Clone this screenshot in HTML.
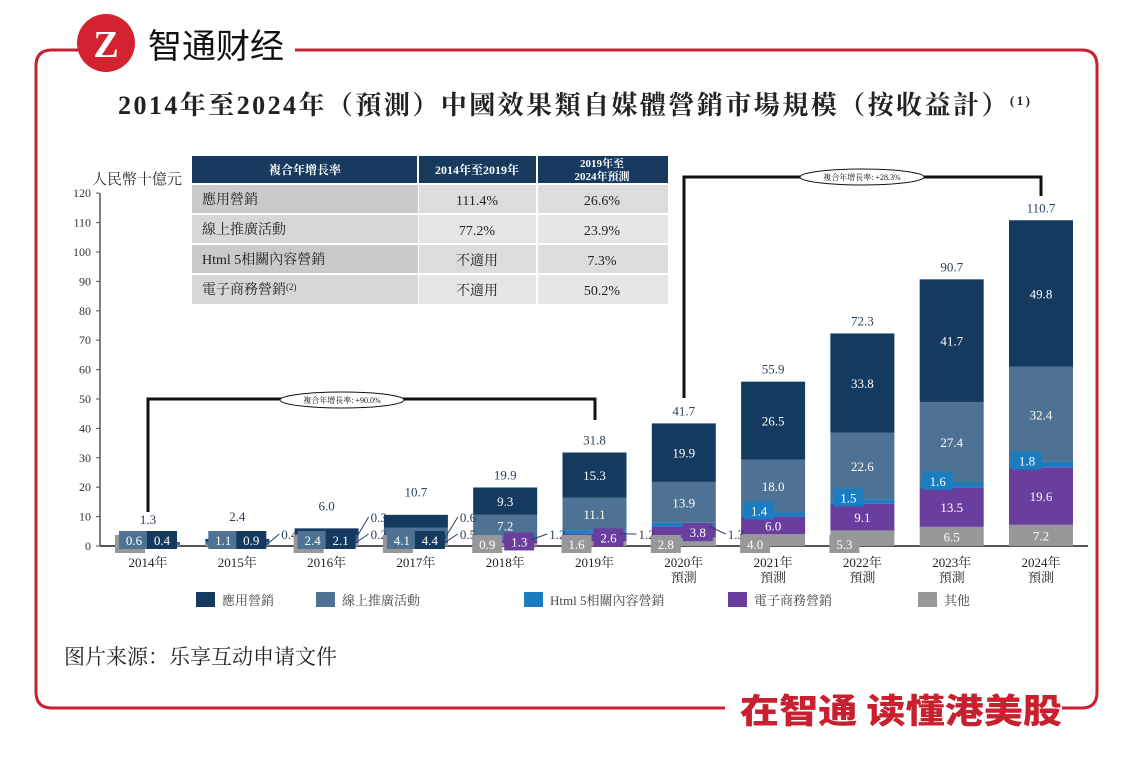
<!DOCTYPE html>
<html><head><meta charset="utf-8">
<style>
body{margin:0;background:#fff;width:1131px;height:760px;overflow:hidden;font-family:"Liberation Serif","Noto Serif CJK SC",serif;}
svg{display:block}
</style></head>
<body>
<svg id="chart" width="1131" height="760" viewBox="0 0 1131 760" xmlns="http://www.w3.org/2000/svg">
  <path d="M80 50 H52 Q36 50 36 66 V692 Q36 708 52 708 H725" fill="none" stroke="#c8202e" stroke-width="3"/>
  <path d="M295 50 H1082 Q1097 50 1097 66 V692 Q1097 708 1082 708 H1062" fill="none" stroke="#c8202e" stroke-width="3"/>
  <g>
    <circle cx="106" cy="43" r="29" fill="#d42330"/>
    <text x="106" y="57" text-anchor="middle" font-family="Liberation Serif" font-weight="bold" font-size="38" fill="#fff">Z</text>
    <text x="148" y="58" font-family="'Noto Sans CJK SC',sans-serif" font-size="34" fill="#111">智通财经</text>
  </g>
  <text x="740" y="723" textLength="322" lengthAdjust="spacingAndGlyphs" font-family="'Noto Sans CJK SC',sans-serif" font-weight="900" font-size="34" fill="#c8202e">在智通 读懂港美股</text>
  <text x="118" y="114" textLength="912" lengthAdjust="spacing" font-weight="bold" font-size="26" fill="#222">2014年至2024年（預測）中國效果類自媒體營銷市場規模（按收益計）<tspan font-size="13" dy="-9">(1)</tspan></text>
  <text x="92" y="184" font-size="15" fill="#333">人民幣十億元</text>
  <text x="64" y="664" font-size="21" fill="#222">图片来源：乐享互动申请文件</text>

  <g font-size="14">
    <rect x="192" y="156" width="476" height="27" fill="#173a5e"/>
    <text x="305" y="174" text-anchor="middle" fill="#fff" font-weight="bold" font-size="12">複合年增長率</text>
    <text x="477" y="174" text-anchor="middle" fill="#fff" font-weight="bold" font-size="12">2014年至2019年</text>
    <text x="602" y="167" text-anchor="middle" fill="#fff" font-weight="bold" font-size="11">2019年至</text>
    <text x="602" y="180" text-anchor="middle" fill="#fff" font-weight="bold" font-size="11">2024年預測</text>
    <line x1="418" y1="156" x2="418" y2="304" stroke="#fff" stroke-width="2"/>
    <line x1="537" y1="156" x2="537" y2="304" stroke="#fff" stroke-width="2"/>
    <rect x="192" y="185" width="226" height="28" fill="#c9cacc"/><rect x="419" y="185" width="117" height="28" fill="#dcdcde"/><rect x="538" y="185" width="130" height="28" fill="#dcdcde"/>
    <rect x="192" y="215" width="226" height="28" fill="#d6d7d9"/><rect x="419" y="215" width="117" height="28" fill="#e6e6e8"/><rect x="538" y="215" width="130" height="28" fill="#e6e6e8"/>
    <rect x="192" y="245" width="226" height="28" fill="#c9cacc"/><rect x="419" y="245" width="117" height="28" fill="#dcdcde"/><rect x="538" y="245" width="130" height="28" fill="#dcdcde"/>
    <rect x="192" y="275" width="226" height="29" fill="#d6d7d9"/><rect x="419" y="275" width="117" height="29" fill="#e6e6e8"/><rect x="538" y="275" width="130" height="29" fill="#e6e6e8"/>
    <text x="202" y="204" fill="#222">應用營銷</text><text x="477" y="205" text-anchor="middle" fill="#222">111.4%</text><text x="602" y="205" text-anchor="middle" fill="#222">26.6%</text>
    <text x="202" y="234" fill="#222">線上推廣活動</text><text x="477" y="235" text-anchor="middle" fill="#222">77.2%</text><text x="602" y="235" text-anchor="middle" fill="#222">23.9%</text>
    <text x="202" y="264" fill="#222">Html 5相關內容營銷</text><text x="477" y="265" text-anchor="middle" fill="#222">不適用</text><text x="602" y="265" text-anchor="middle" fill="#222">7.3%</text>
    <text x="202" y="294" fill="#222">電子商務營銷<tspan font-size="9" dy="-4">(2)</tspan></text><text x="477" y="295" text-anchor="middle" fill="#222">不適用</text><text x="602" y="295" text-anchor="middle" fill="#222">50.2%</text>
  </g>

  <g>
    <path d="M148 512 V399 H595 V420" fill="none" stroke="#111" stroke-width="3"/>
    <ellipse cx="342" cy="400" rx="62" ry="8" fill="#fff" stroke="#111"/>
    <text x="342" y="403" text-anchor="middle" font-size="8" fill="#111">複合年增長率: +90.0%</text>
  </g>
  <g>
    <path d="M684 398 V177 H1041 V196" fill="none" stroke="#111" stroke-width="3"/>
    <ellipse cx="862" cy="177" rx="62" ry="8" fill="#fff" stroke="#111"/>
    <text x="862" y="180" text-anchor="middle" font-size="8" fill="#111">複合年增長率: +28.3%</text>
  </g>

  <g id="axes"></g>
  <g id="bars"></g>
  <g id="labels"></g>
  <g id="legend"></g>
</svg>
<script>
const categories = ["2014年","2015年","2016年","2017年","2018年","2019年","2020年","2021年","2022年","2023年","2024年"];
const forecast = [false,false,false,false,false,false,true,true,true,true,true];
const otherVals = [0.3,0.4,1.0,1.0,0.9,1.6,2.8,4.0,5.3,6.5,7.2];
const ecomVals  = [0,0,0.2,0.5,1.3,2.6,3.8,6.0,9.1,13.5,19.6];
const html5Vals = [0,0,0.3,0.6,1.2,1.2,1.3,1.4,1.5,1.6,1.8];
const onlineVals = [0.6,1.1,2.4,4.1,7.2,11.1,13.9,18.0,22.6,27.4,32.4];
const appVals   = [0.4,0.9,2.1,4.4,9.3,15.3,19.9,26.5,33.8,41.7,49.8];
const totals    = [1.3,2.4,6.0,10.7,19.9,31.8,41.7,55.9,72.3,90.7,110.7];
const yTicks = [0,10,20,30,40,50,60,70,80,90,100,110,120];
const seriesNames = ["應用營銷","線上推廣活動","Html 5相關內容營銷","電子商務營銷","其他"];

const NS="http://www.w3.org/2000/svg";
const y0=546, pxPer=2.94, x0=148, step=89.3, bw=64;
const yS=v=>y0-v*pxPer;
const xS=i=>x0+i*step;
function mk(tag,attrs,parent,txt){const e=document.createElementNS(NS,tag);for(const k in attrs)e.setAttribute(k,attrs[k]);if(txt!==undefined)e.textContent=txt;parent.appendChild(e);return e;}

const axes=document.getElementById('axes');
mk('line',{x1:100,y1:yS(0),x2:1088,y2:yS(0),stroke:'#555','stroke-width':2},axes);
mk('line',{x1:100,y1:yS(0),x2:100,y2:yS(120),stroke:'#555','stroke-width':1.5},axes);
yTicks.forEach(t=>{
  mk('line',{x1:96,y1:yS(t),x2:100,y2:yS(t),stroke:'#555'},axes);
  const tx=mk('text',{x:91,y:yS(t)+4,'text-anchor':'end','font-size':12,fill:'#333'},axes,String(t));
  
  
});

const bars=document.getElementById('bars');
const labels=document.getElementById('labels');
const series=[
 {vals:otherVals,color:'#97989a',name:'other',off:-18,k:0},
 {vals:ecomVals,color:'#6a3e9e',name:'ecommerce',off:14,k:1},
 {vals:html5Vals,color:'#1a7dc2',name:'html5',off:-14,k:2},
 {vals:onlineVals,color:'#4d7293',name:'online-promo',off:-14,k:3},
 {vals:appVals,color:'#143a5f',name:'app-marketing',off:14,k:4}
];
function label(x,y,v,color,box,anchor){
  if(box) mk('rect',{x:x-15,y:y-9,width:30,height:18,fill:color},labels);
  const t=mk('text',{x:x,y:y+5,'text-anchor':anchor||'middle','font-size':13,fill:box?'#fff':'#2a3f57'},labels,v.toFixed(1));
  
  
}
categories.forEach((c,i)=>{
  let acc=0;
  let outN=0;
  series.forEach(s=>{
    const v=s.vals[i];
    if(v<=0)return;
    const top=yS(acc+v), h=v*pxPer;
    const r=mk('rect',{x:xS(i)-bw/2,y:top,width:bw,height:h,fill:s.color},bars);
    
    
    const cy=top+h/2;
    if(h>=16){
      const t=mk('text',{x:xS(i),y:cy+5,'text-anchor':'middle','font-size':13,fill:'#fff'},labels,v.toFixed(1));
      
      
    } else if(s.k===0 && i!==1){
      label(xS(i)-18,y0-2,v,s.color,true);
    } else if(s.k===3||s.k===4){
      label(xS(i)+s.off,y0-6,v,s.color,true);
    } else if(s.k===1 && i>=4){
      label(xS(i)+14,cy,v,s.color,true);
    } else if(s.k===2 && i>=7){
      label(xS(i)-14,cy-4,v,s.color,true);
    } else {
      const ox=xS(i)+bw/2+12, oy=y0-12-outN*17;
      mk('line',{x1:xS(i)+bw/2-6,y1:cy+2,x2:ox-2,y2:oy,stroke:'#2a3f57','stroke-width':1},labels);
      label(ox,oy,v,s.color,false,'start');
      outN++;
    }
    acc+=v;
  });
  const tt=mk('text',{x:xS(i),y:yS(totals[i])-8-(i<4?10:0),'text-anchor':'middle','font-size':13,fill:'#2a3f57'},labels,totals[i].toFixed(1));
  
  
  const xl=mk('text',{x:xS(i),y:567,'text-anchor':'middle','font-size':13,fill:'#222'},labels,c);
  
  
  if(forecast[i]){
    const f=mk('text',{x:xS(i),y:582,'text-anchor':'middle','font-size':13,fill:'#222'},labels,'預測');
    
    
  }
});

const legend=document.getElementById('legend');
const legColors=['#143a5f','#4d7293','#1a7dc2','#6a3e9e','#97989a'];
const legX=[196,316,524,728,918];
seriesNames.forEach((n,k)=>{
  const g=mk('g',{},legend);
  
  
  mk('rect',{x:legX[k],y:592,width:19,height:15,fill:legColors[k]},g);
  mk('text',{x:legX[k]+26,y:605,'font-size':13,fill:'#444'},g,n);
});
</script>
</body></html>
